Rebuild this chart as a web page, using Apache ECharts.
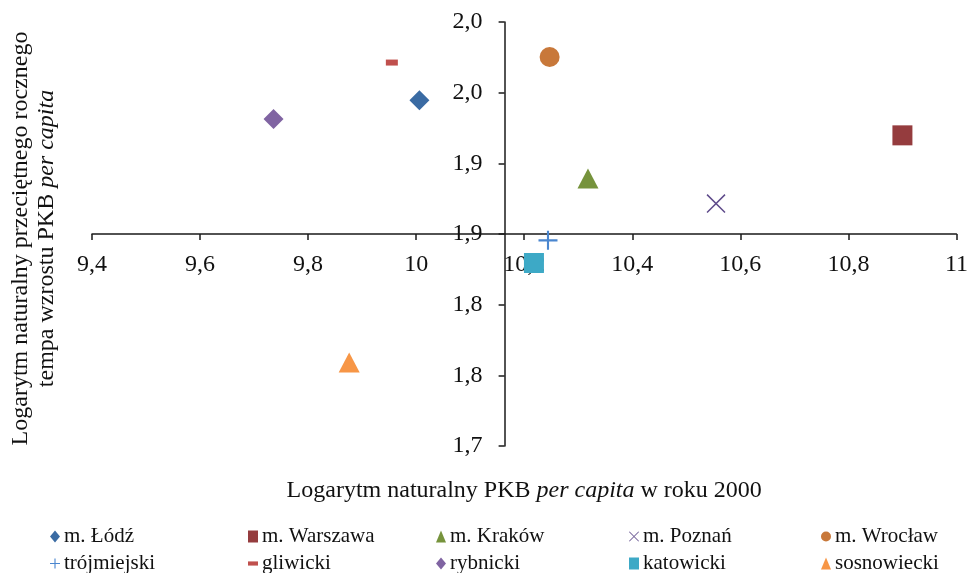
<!DOCTYPE html>
<html>
<head>
<meta charset="utf-8">
<script src="https://cdn.jsdelivr.net/npm/echarts@6/dist/echarts.min.js"></script>
<style>
  html, body { margin: 0; padding: 0; background: #fff; }
  #chart { width: 971px; height: 573px; }
</style>
</head>
<body>
<div id="chart"></div>
<script>
// Regions (subregions and cities) and their coordinates
const regionNames = ['m. Łódź', 'm. Warszawa', 'm. Kraków', 'm. Poznań', 'm. Wrocław',
                     'trójmiejski', 'gliwicki', 'rybnicki', 'katowicki', 'sosnowiecki'];
// ln GDP per capita in 2000
const lnGdp2000 = [10.006, 10.900, 10.318, 10.555, 10.247, 10.244, 9.955, 9.736, 10.218, 9.876];
// ln of the average annual GDP per capita growth rate
const lnGrowth = [1.9446, 1.9198, 1.8892, 1.8715, 1.9752, 1.8455, 1.9713, 1.9314, 1.8295, 1.7590];

const xTickLabels = ['9,4', '9,6', '9,8', '10', '10,2', '10,4', '10,6', '10,8', '11'];
const yTickLabels = ['1,7', '1,8', '1,8', '1,9', '1,9', '2,0', '2,0'];

// where the axes cross each other
const xCross = 10.16;
const yCross = 1.85;

const FONT = "'Liberation Serif', 'Times New Roman', serif";
const AXIS_COLOR = '#1a1a1a';

const PLUS_PATH = 'path://M8,0h2v18h-2zM0,8h18v2h-18z';
const CROSS_PATH = 'path://M0,1.1L1.1,0L20,18.9L18.9,20ZM18.9,0L20,1.1L1.1,20L0,18.9Z';
const DASH_PATH = 'path://M0,0h12v5h-12z';

const markerStyles = [
  { symbol: 'diamond', size: 20, color: '#3A6BA3' },
  { symbol: 'rect', size: 20, color: '#953C3E' },
  { symbol: 'triangle', size: [21, 20], color: '#76933C' },
  { symbol: CROSS_PATH, size: 19, color: '#5F4B8B' },
  { symbol: 'circle', size: 20, color: '#C8783A' },
  { symbol: PLUS_PATH, size: 19, color: '#4A86CF' },
  { symbol: DASH_PATH, size: [12, 6], color: '#C0504D' },
  { symbol: 'diamond', size: 20, color: '#8064A2' },
  { symbol: 'rect', size: 20, color: '#3DA9C6' },
  { symbol: 'triangle', size: [21, 20], color: '#F79646' }
];
const legendIcons = ['diamond', 'rect', 'triangle', CROSS_PATH, 'circle',
                     PLUS_PATH, DASH_PATH, 'diamond', 'rect', 'triangle'];

const series = regionNames.map((name, i) => ({
  name: name,
  type: 'scatter',
  xAxisIndex: 0,
  yAxisIndex: 0,
  symbol: markerStyles[i].symbol,
  symbolSize: markerStyles[i].size,
  itemStyle: { color: markerStyles[i].color, opacity: 1 },
  emphasis: { disabled: true },
  data: [[lnGdp2000[i], lnGrowth[i]]]
}));

// legend: five columns, two rows
const legendLeft = [50, 248, 436, 629, 821];
const legends = legendLeft.map((left, c) => ({
  orient: 'vertical',
  left: left,
  top: 526,
  height: 80,
  padding: 0,
  itemGap: 6,
  itemWidth: 10,
  itemHeight: 12,
  selectedMode: false,
  textStyle: { fontFamily: FONT, fontSize: 21, color: '#111', lineHeight: 20, padding: [0, 0, 0, -1] },
  data: [c, c + 5].map(i => ({ name: regionNames[i], icon: legendIcons[i], itemStyle: { color: markerStyles[i].color } }))
}));

const grid = { left: 90, right: 11, top: 22, bottom: 127 };

const option = {
  animation: false,
  backgroundColor: '#ffffff',
  grid: grid,
  legend: legends,
  xAxis: [
    {
      type: 'value', min: 9.4, max: 11, interval: 0.2,
      position: 'bottom', offset: 0,
      axisLine: { onZero: false, lineStyle: { color: AXIS_COLOR, width: 1.5 } },
      axisTick: { show: true, length: 6, lineStyle: { color: AXIS_COLOR, width: 1.5 } },
      axisLabel: {
        margin: 19, fontFamily: FONT, fontSize: 24, color: '#111',
        formatter: (v, idx) => xTickLabels[idx]
      },
      splitLine: { show: false }
    },
    {
      type: 'value', min: 9.4, max: 11,
      position: 'bottom', offset: 0,
      axisLine: { show: false }, axisTick: { show: false }, axisLabel: { show: false },
      splitLine: { show: false },
      name: 'Logarytm naturalny PKB {i|per capita} w roku 2000',
      nameLocation: 'middle', nameGap: 33,
      nameTextStyle: {
        fontFamily: FONT, fontSize: 24, color: '#111',
        rich: { i: { fontFamily: FONT, fontSize: 24, fontStyle: 'italic', color: '#111' } }
      }
    }
  ],
  yAxis: [
    {
      type: 'value', min: 1.7, max: 2.0, interval: 0.05,
      position: 'left', offset: 0,
      axisLine: { onZero: false, lineStyle: { color: AXIS_COLOR, width: 1.5 } },
      axisTick: { show: true, length: 6, lineStyle: { color: AXIS_COLOR, width: 1.5 } },
      axisLabel: {
        margin: 22, fontFamily: FONT, fontSize: 24, color: '#111',
        formatter: (v, idx) => yTickLabels[idx]
      },
      splitLine: { show: false }
    },
    {
      type: 'value', min: 1.7, max: 2.0,
      position: 'left', offset: 0,
      axisLine: { show: false }, axisTick: { show: false }, axisLabel: { show: false },
      splitLine: { show: false },
      name: 'Logarytm naturalny przeciętnego rocznego\ntempa wzrostu PKB {i|per capita}',
      nameLocation: 'middle', nameGap: 32,
      nameTextStyle: {
        fontFamily: FONT, fontSize: 24, color: '#111', lineHeight: 26,
        padding: [0, 9, 0, 0],
        rich: { i: { fontFamily: FONT, fontSize: 24, fontStyle: 'italic', color: '#111', lineHeight: 26 } }
      }
    }
  ],
  series: series
};

const chart = echarts.init(document.getElementById('chart'), null, { renderer: 'canvas' });
chart.setOption(option);

// move the axes so they cross at (xCross, yCross)
const pxCross = chart.convertToPixel({ xAxisIndex: 0 }, xCross);
const pyCross = chart.convertToPixel({ yAxisIndex: 0 }, yCross);
const gridBottomPx = 573 - grid.bottom;
chart.setOption({
  xAxis: [{ offset: -(gridBottomPx - pyCross) }, {}],
  yAxis: [{ offset: -(pxCross - grid.left) }, {}]
});
</script>
</body>
</html>
